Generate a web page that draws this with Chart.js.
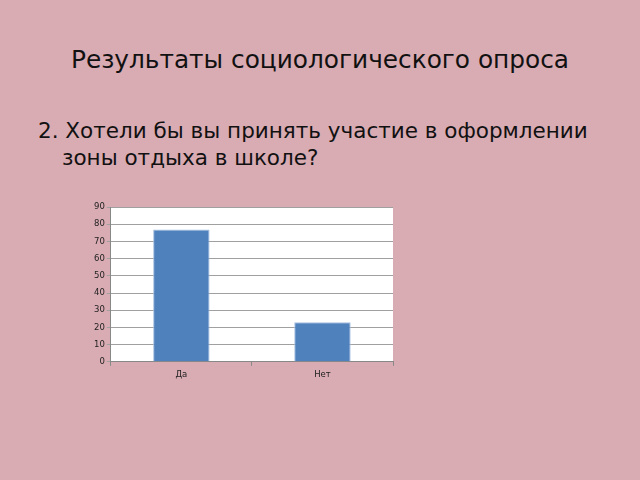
<!DOCTYPE html>
<html>
<head>
<meta charset="utf-8">
<script src="https://cdn.jsdelivr.net/npm/chart.js@4"></script>
<style>
  body { margin: 0; width: 640px; height: 480px; background: #d9abb3; font-family: "DejaVu Sans", sans-serif; position: relative; overflow: hidden; }
  h1 { position: absolute; left: 0; width: 640px; top: 45px; margin: 0; text-align: center; font-weight: normal; font-size: 24.8px; color: #111; }
  .q { position: absolute; left: 38px; top: 117px; margin: 0; font-size: 21.5px; line-height: 27px; color: #111; padding-left: 24px; text-indent: -24px; width: 600px; white-space: nowrap; }
  #wrap { position: absolute; left: 76px; top: 200px; width: 330px; height: 190px; }
</style>
</head>
<body>
<h1>Результаты социологического опроса</h1>
<p class="q">2. Хотели бы вы принять участие в оформлении<br>зоны отдыха в школе?</p>
<div id="wrap"><canvas id="chart"></canvas></div>
<script>
const categories = ['Да', 'Нет'];
const answers = [77, 23];
const yTicks = [0, 10, 20, 30, 40, 50, 60, 70, 80, 90];

// white plot area like the original slide chart
const plotBg = {
  id: 'plotBg',
  beforeDraw(chart) {
    const a = chart.chartArea;
    chart.ctx.save();
    chart.ctx.fillStyle = '#ffffff';
    chart.ctx.fillRect(a.left, a.top, a.right - a.left, a.bottom - a.top);
    chart.ctx.restore();
  }
};

new Chart(document.getElementById('chart'), {
  type: 'bar',
  data: {
    labels: categories,
    datasets: [{
      data: answers,
      backgroundColor: '#4f81bd',
      borderColor: '#a7c0e0',
      borderWidth: 1,
      categoryPercentage: 1,
      barPercentage: 0.4
    }]
  },
  options: {
    responsive: true,
    maintainAspectRatio: false,
    animation: false,
    layout: { padding: { top: 6, right: 13, bottom: 6, left: 16 } },
    plugins: { legend: { display: false }, tooltip: { enabled: false } },
    scales: {
      x: {
        grid: { display: true, drawOnChartArea: false, color: '#888', tickLength: 4 },
        border: { color: '#888' },
        ticks: { color: '#222', font: { family: 'DejaVu Sans', size: 8.5 }, padding: 4 }
      },
      y: {
        min: 0, max: 90,
        afterBuildTicks(axis) { axis.ticks = yTicks.map(v => ({ value: v })); },
        grid: { color: '#a0a0a0', tickLength: 4 },
        border: { color: '#888' },
        ticks: { color: '#222', font: { family: 'DejaVu Sans', size: 8.5 }, padding: 2 }
      }
    }
  },
  plugins: [plotBg]
});
</script>
</body>
</html>
